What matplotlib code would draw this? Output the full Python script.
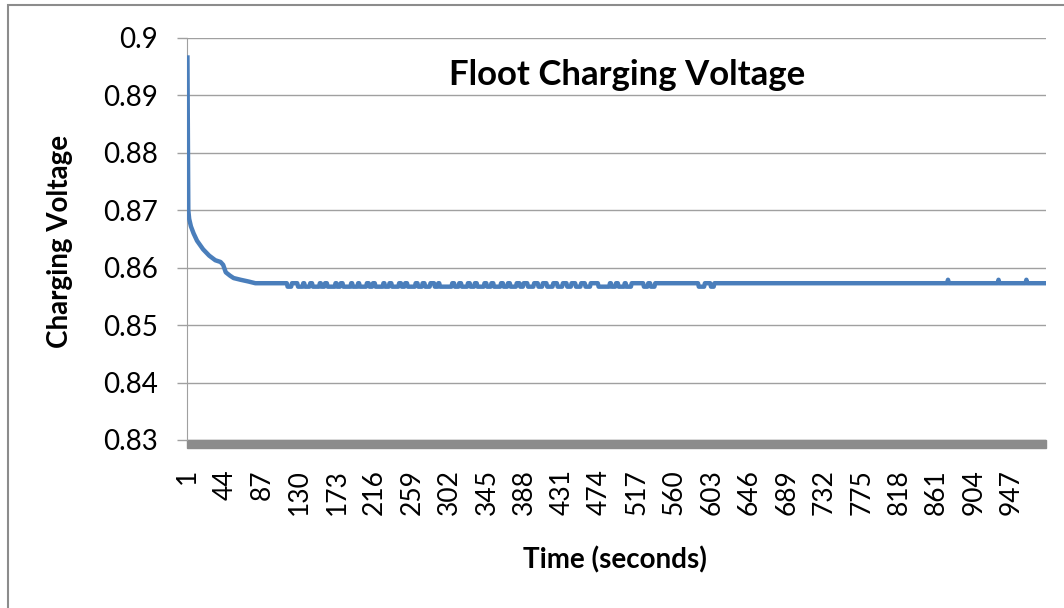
import numpy as np
import matplotlib.pyplot as plt
from matplotlib.patches import Rectangle

# decay at the start (sample index, volts)
decay_idx = [1, 2, 3, 5, 8, 12, 19, 26, 33, 39, 42, 45, 50, 54, 62, 71, 79]
decay_val = [0.8966, 0.8700, 0.8685, 0.8672, 0.8660, 0.8647, 0.8632, 0.8621,
             0.8613, 0.8610, 0.8605, 0.8592, 0.8586, 0.8582, 0.8579, 0.8576, 0.8573]

n_samples = 986
base_val = 0.8573
dip_val = 0.8567
spike_val = 0.8579
dip_ranges = [(116, 120), (128, 133), (136, 141), (145, 152), (155, 158), (162, 170),
              (173, 176), (180, 188), (191, 196), (199, 206), (210, 213), (217, 225),
              (228, 232), (236, 243), (247, 250), (254, 262), (266, 270), (274, 279),
              (285, 288), (291, 304), (308, 312), (316, 322), (326, 330), (334, 341),
              (345, 349), (353, 360), (364, 368), (372, 378), (383, 386), (392, 398),
              (404, 408), (414, 420), (426, 431), (437, 441), (447, 452), (458, 463),
              (473, 485), (488, 492), (496, 502), (505, 510), (525, 529), (533, 537),
              (588, 594), (602, 605)]
spike_idx = [874, 932, 964]

tick_labels = list(range(1, 990, 43))

# steady part of the series
steady_idx = np.arange(decay_idx[-1] + 1, n_samples + 1)
steady_val = np.full(len(steady_idx), base_val)
for a, b in dip_ranges:
    steady_val[(steady_idx >= a) & (steady_idx <= b)] = dip_val
for s in spike_idx:
    steady_val[steady_idx == s] = spike_val

x = np.concatenate([decay_idx, steady_idx])
y = np.concatenate([decay_val, steady_val])

plt.rcParams['font.family'] = ['Lato', 'DejaVu Sans']

fig = plt.figure(figsize=(10.64, 6.08), dpi=100)
W, H = 1064, 608
ax = fig.add_axes([187 / W, 1 - 440 / H, (1046 - 187) / W, (440 - 38) / H])

ax.plot(x, y, color='#4a7ebb', lw=3.2, solid_joinstyle='round', zorder=3)

ax.set_xlim(0.5, n_samples + 0.5)
ax.set_ylim(0.83, 0.9)
ax.set_yticks(np.arange(0.83, 0.9001, 0.01))
ax.set_yticklabels(['0.83', '0.84', '0.85', '0.86', '0.87', '0.88', '0.89', '0.9'])
ax.set_xticks(tick_labels)
ax.set_xticklabels([str(t) for t in tick_labels], rotation=90, va='top')
ax.tick_params(axis='x', length=0, pad=21, labelsize=19)
ax.tick_params(axis='y', length=7, width=1, color='#a0a0a0', pad=14, labelsize=20)
ax.grid(axis='y', color='#a0a0a0', lw=1)
ax.set_axisbelow(True)
for side in ['top', 'right', 'bottom']:
    ax.spines[side].set_visible(False)
ax.spines['left'].set_color('#a0a0a0')

# floor bar below the plot
ax.add_patch(Rectangle((0, -8 / 402), 1, 8 / 402, transform=ax.transAxes,
                       color='#8c8c8c', clip_on=False, zorder=2))

fig.text(627 / W, 1 - 75 / H, 'Floot Charging Voltage', ha='center', va='center',
         fontsize=25, fontweight='bold')
fig.text(60 / W, 1 - 241 / H, 'Charging Voltage', ha='center', va='center',
         rotation=90, fontsize=20, fontweight='bold')
fig.text(615 / W, 1 - 560 / H, 'Time (seconds)', ha='center', va='center',
         fontsize=20, fontweight='bold')

# outer chart frame
fig.add_artist(Rectangle((8 / W, -0.05), 1.2, 1 - 5 / H + 0.05, transform=fig.transFigure,
                         fill=False, ec='#8c8c8c', lw=1.5))

fig.savefig('out.png', dpi=100)
